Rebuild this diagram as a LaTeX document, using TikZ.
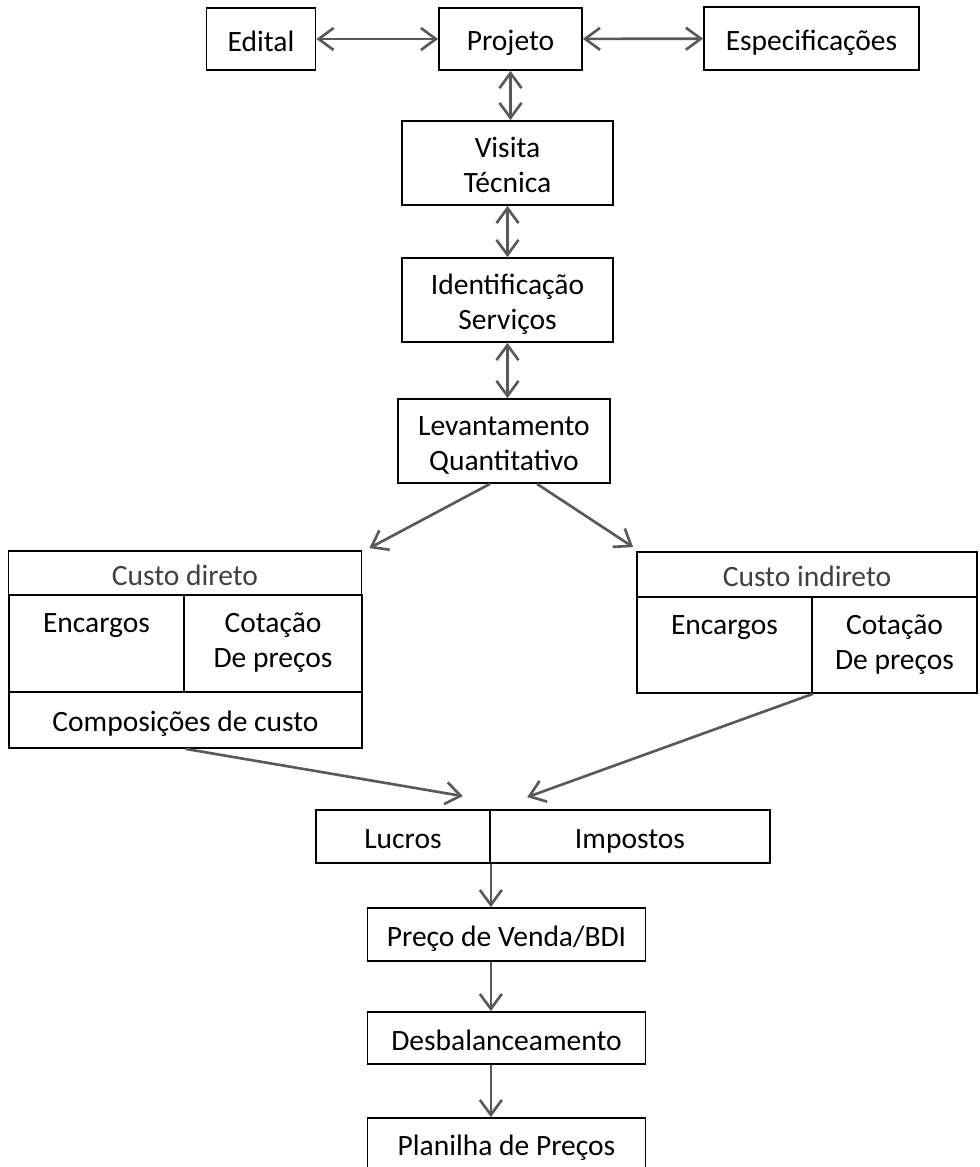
\documentclass[tikz,border=0pt]{standalone}
\usepackage{fontspec}
\setmainfont{Carlito}
\usetikzlibrary{arrows.meta}

\definecolor{setacinza}{HTML}{595959}
\definecolor{titulocinza}{HTML}{404040}

\newcommand{\topo}{\rule{0pt}{16pt}}
\newcommand{\fundo}{\rule[-2pt]{0pt}{2pt}}

\tikzset{
  caixa/.style={draw=black, line width=1pt, inner sep=0pt, align=center,
    execute at begin node=\topo, execute at end node=\fundo},
  rotulo/.style={inner sep=0pt, align=center, anchor=north,
    execute at begin node=\topo, execute at end node=\fundo},
  seta/.style={draw=setacinza, line width=1.5pt, -{Straight Barb[length=0.3cm,width=0.44cm]}},
  setadupla/.style={seta, {Straight Barb[length=0.3cm,width=0.44cm]}-{Straight Barb[length=0.3cm,width=0.44cm]}},
}

\begin{document}
\begin{tikzpicture}[x=0.02cm, y=-0.02cm, font=\fontsize{16.8}{20}\selectfont]
  \clip (0,0) rectangle (980,1167);

  % top row
  \node[caixa, minimum width=2.18cm, minimum height=1.24cm] (edital) at (261,39) {Edital};
  \node[caixa, minimum width=2.86cm, minimum height=1.24cm] (projeto) at (510.5,39) {Projeto};
  \node[caixa, minimum width=4.3cm, minimum height=1.26cm] (espec) at (811.5,38.5) {Especificações};

  % middle column
  \node[caixa, minimum width=4.22cm, minimum height=1.68cm] (visita) at (507.5,163) {\topo Visita\\Técnica};
  \node[caixa, minimum width=4.22cm, minimum height=1.68cm] (ident) at (507.5,300) {\topo Identificação\\Serviços};
  \node[caixa, minimum width=4.24cm, minimum height=1.68cm] (levant) at (504,441) {\topo Levantamento\\Quantitativo};

  % custo direto
  \node[caixa, text=titulocinza, minimum width=7.06cm, minimum height=0.88cm] (dTitulo) at (185,573) {Custo direto};
  \node[caixa, minimum width=3.5cm, minimum height=1.94cm] (dEnc) at (96.5,643.5) {};
  \node[caixa, minimum width=3.56cm, minimum height=1.94cm] (dCot) at (273,643.5) {};
  \node[caixa, minimum width=7.06cm, minimum height=1.12cm] (dComp) at (185.5,720) {Composições de custo};
  \node[rotulo] (dEncTxt) at ([yshift=-0.2cm]dEnc.north) {Encargos};
  \node[rotulo] (dCotTxt) at ([yshift=-0.2cm]dCot.north) {\topo Cotação\\De preços};

  % custo indireto
  \node[caixa, text=titulocinza, minimum width=6.8cm, minimum height=0.9cm] (iTitulo) at (807,574.5) {Custo indireto};
  \node[caixa, minimum width=3.5cm, minimum height=1.92cm] (iEnc) at (724.5,645) {};
  \node[caixa, minimum width=3.3cm, minimum height=1.92cm] (iCot) at (894.5,645) {};
  \node[rotulo] (iEncTxt) at ([yshift=-0.2cm]iEnc.north) {Encargos};
  \node[rotulo] (iCotTxt) at ([yshift=-0.2cm]iCot.north) {\topo Cotação\\De preços};

  % bottom column
  \node[caixa, minimum width=3.48cm, minimum height=1.06cm] (lucros) at (403,836.5) {Lucros};
  \node[caixa, minimum width=5.6cm, minimum height=1.06cm] (impostos) at (630,836.5) {Impostos};
  \node[caixa, minimum width=5.56cm, minimum height=1.06cm] (preco) at (506.5,934.5) {Preço de Venda/BDI};
  \node[caixa, minimum width=5.56cm, minimum height=1.04cm] (desbal) at (506.5,1038) {Desbalanceamento};
  \node[caixa, minimum width=5.56cm, minimum height=1.04cm] (planilha) at (506.5,1144) {Planilha de Preços};

  % arrows
  \draw[setadupla] (edital) -- (projeto);
  \draw[setadupla] (projeto) -- (espec);
  \draw[setadupla] (projeto.south) -- (projeto.south |- visita.north);
  \draw[setadupla] (visita.south) -- (ident.north);
  \draw[setadupla] (ident.south) -- (ident.south |- levant.north);
  \draw[seta] ([xshift=-0.28cm]levant.south) -- ([xshift=0.14cm,yshift=0.04cm]dTitulo.north east);
  \draw[seta] ([xshift=0.66cm]levant.south) -- ([xshift=-0.06cm,yshift=0.08cm]iTitulo.north west);
  \draw[seta] (dComp.south) -- ([xshift=-0.56cm,yshift=0.26cm]lucros.north east);
  \draw[seta] (iEnc.south east) -- ([xshift=0.76cm,yshift=0.24cm]impostos.north west);
  \draw[seta] (lucros.south east) -- (lucros.south east |- preco.north);
  \draw[seta] (lucros.south east |- preco.south) -- (lucros.south east |- desbal.north);
  \draw[seta] (lucros.south east |- desbal.south) -- (lucros.south east |- planilha.north);
\end{tikzpicture}
\end{document}
